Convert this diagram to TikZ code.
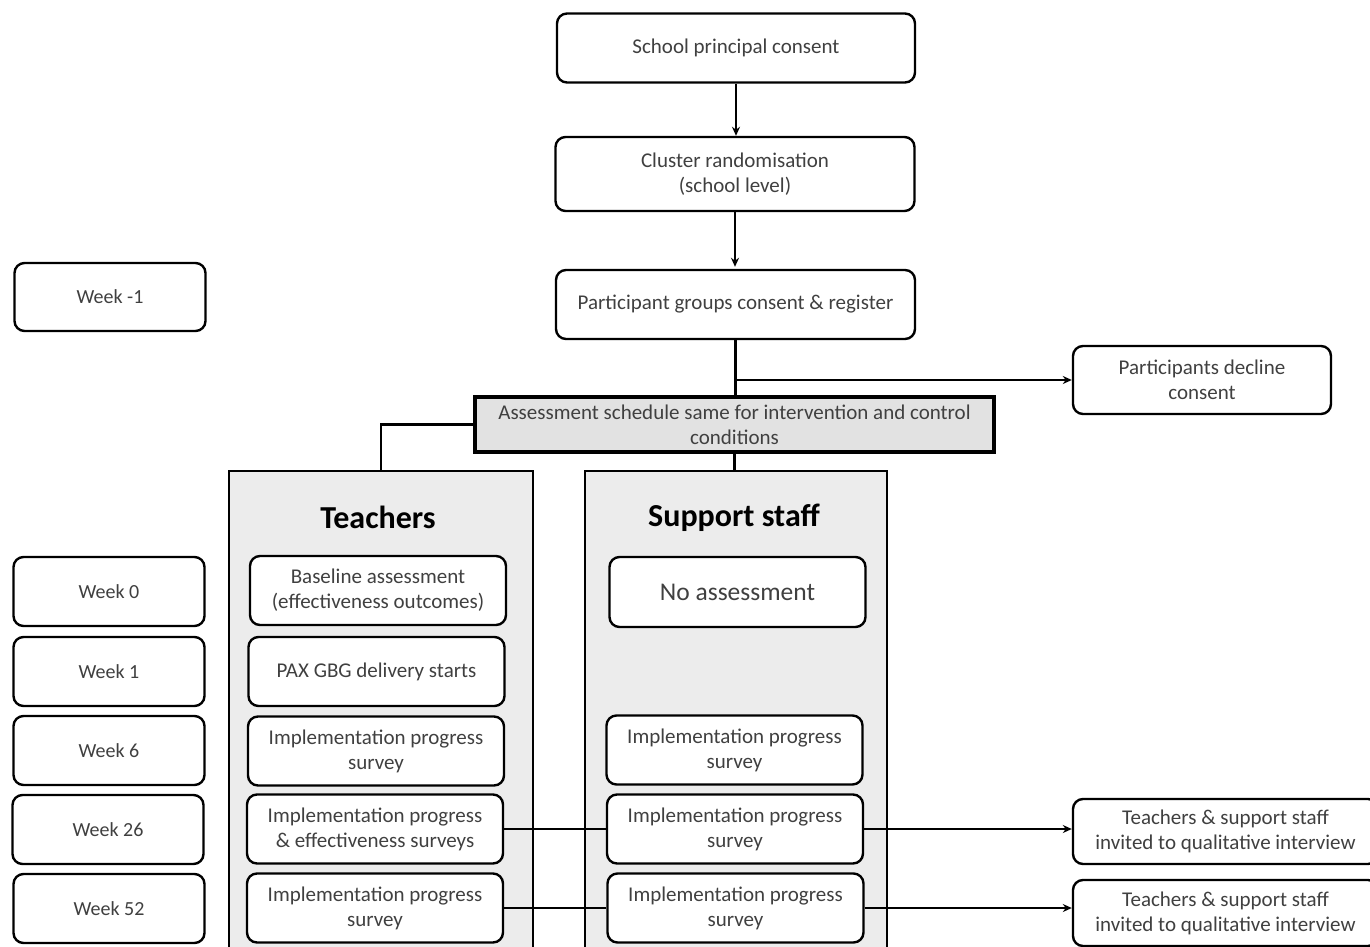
\documentclass[tikz,border=0pt]{standalone}
\usepackage{fontspec}
\setmainfont{Carlito}
\usetikzlibrary{arrows.meta,positioning}
\definecolor{txtgray}{RGB}{64,64,64}
\definecolor{panelgray}{RGB}{236,236,236}
\definecolor{schedgray}{RGB}{226,226,226}

\begin{document}
\begin{tikzpicture}[x=1pt,y=-1pt,>={Stealth[length=9pt,width=8pt]},line width=2.3pt,
    flow box/.style={draw,rounded corners=10pt,fill=white,line width=2.4pt,align=center,
      text=txtgray,font=\fontsize{21}{25}\selectfont,minimum height=69pt,inner sep=2pt},
    week box/.style={flow box,minimum width=191pt,font=\fontsize{20}{24}\selectfont},
    inner box/.style={flow box,minimum width=256pt},
    panel box/.style={draw,fill=panelgray,line width=2.3pt,minimum height=490pt,anchor=north},
    title text/.style={font=\fontsize{32}{34}\selectfont\bfseries,text=black}]

  \useasboundingbox (0,0) rectangle (1370,947);

  % phases
  \node[flow box,minimum width=358pt] (principal) at (736,48) {School principal consent};
  \node[flow box,minimum width=359pt,minimum height=74pt] (cluster) at (735,174) {Cluster randomisation\\(school level)};
  \node[flow box,minimum width=359pt] (register) at (735.5,304.5) {Participant groups consent \& register};
  \node[flow box,minimum width=258pt,minimum height=68pt] (decline) at (1202,380) {Participants decline\\consent};
  \node[draw,fill=schedgray,line width=4pt,minimum width=519pt,minimum height=55pt,align=center,
    text=txtgray,font=\fontsize{21}{25}\selectfont,inner sep=1pt] (schedule) at (734.5,424.5)
    {Assessment schedule same for intervention and control\\conditions};

  % groups
  \node[panel box,minimum width=304pt] (tpanel) at (381,470) {};
  \node[panel box,minimum width=302pt] (spanel) at (736,470) {};
  \node[title text] (teachers) at (378,517) {Teachers};
  \node[title text] (support) at (734,518) {Support staff};

  % timeline
  \node[week box,minimum height=68pt] (wkm1) at (110,297) {Week -1};
  \node[week box] (wk0) at (109,591.5) {Week 0};
  \node[week box] (wk1) at (109,671.5) {Week 1};
  \node[week box] (wk6) at (109,750.5) {Week 6};
  \node[week box] (wk26) at (108,829.5) {Week 26};
  \node[week box] (wk52) at (109,908.5) {Week 52};

  % connectors
  \draw[->] (principal.south) -- (principal.south |- cluster.north);
  \draw[->] (cluster.south) -- ([yshift=2pt]cluster.south |- register.north);
  \draw (register.south) -- (register.south |- schedule.north);
  \coordinate (split) at (register.south |- decline.west);
  \draw[->] (split) -- (decline.west);
  \draw (schedule.west) -| (tpanel.north);
  \draw (schedule.south) -- (schedule.south |- spanel.north);

  \node[inner box] (baseline) at (378,590.5) {Baseline assessment\\(effectiveness outcomes)};
  \node[inner box] (pax) at (376.5,671.5) {PAX GBG delivery starts};
  \node[inner box] (timpl6) at (376,751) {Implementation progress\\survey};
  \node[inner box] (timpl26) at (375,829) {Implementation progress\\\& effectiveness surveys};
  \node[inner box] (timpl52) at (375,908) {Implementation progress\\survey};

  \node[inner box,minimum height=70pt,font=\fontsize{25.5}{28}\selectfont] (noassess) at (737.5,592) {No assessment};
  \node[inner box] (simpl6) at (734.5,750) {Implementation progress\\survey};
  \node[inner box] (simpl26) at (735,829) {Implementation progress\\survey};
  \node[inner box] (simpl52) at (735.5,908) {Implementation progress\\survey};

  \node[flow box,minimum width=305pt,minimum height=65pt] (invite26) at (1225.5,831.5) {Teachers \& support staff\\invited to qualitative interview};
  \node[flow box,minimum width=305pt,minimum height=66pt] (invite52) at (1225.5,913) {Teachers \& support staff\\invited to qualitative interview};

  \draw (timpl26.east) -- (simpl26.west);
  \draw[->] (simpl26.east) -- (simpl26.east -| invite26.west);
  \draw (timpl52.east) -- (simpl52.west);
  \draw[->] (simpl52.east) -- (simpl52.east -| invite52.west);

\end{tikzpicture}
\end{document}
